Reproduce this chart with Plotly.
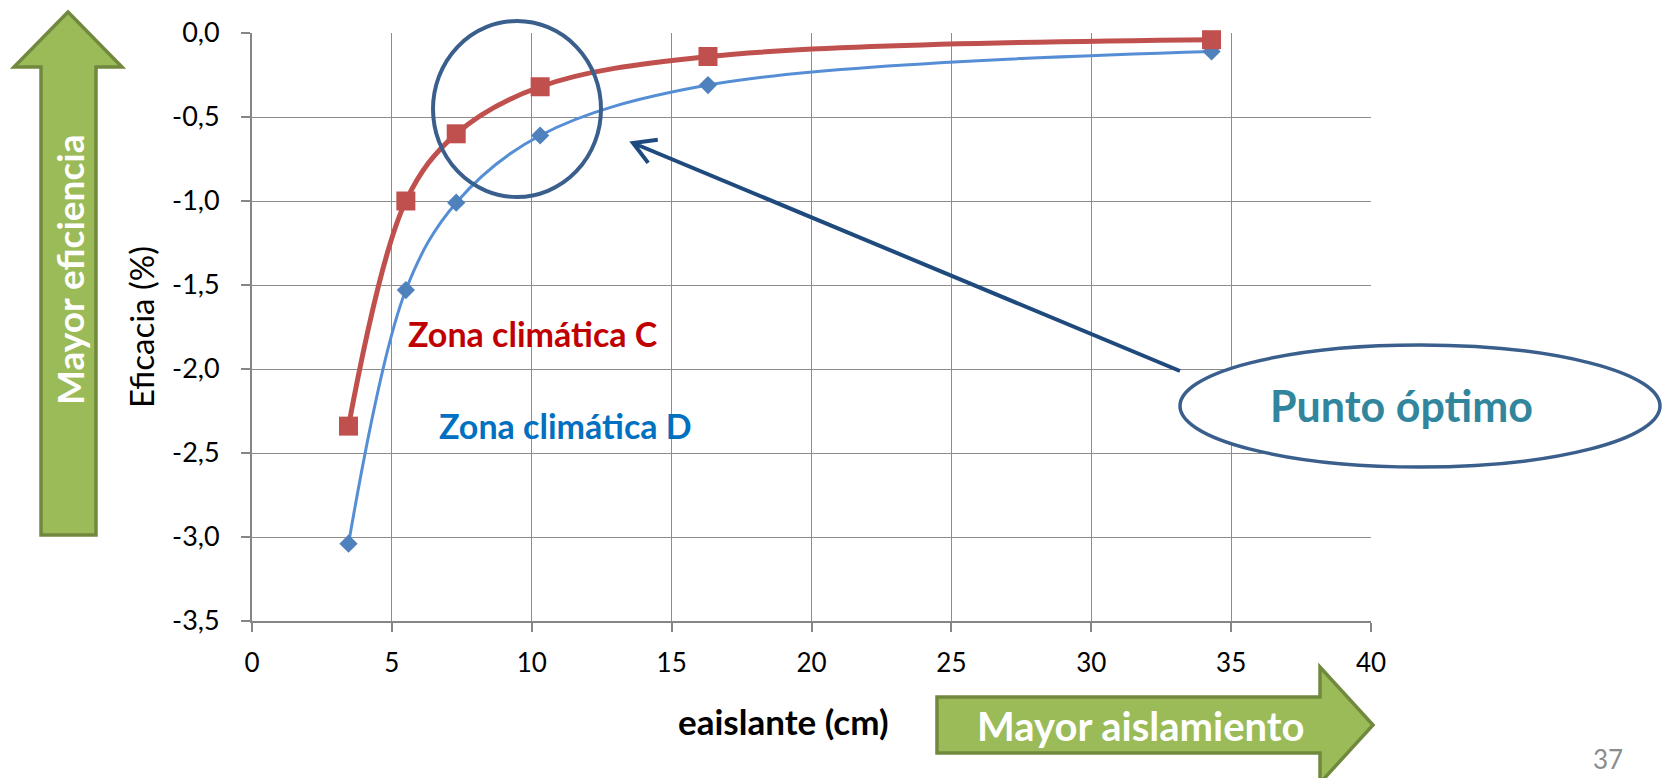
import math
import plotly.graph_objects as go

# Insulation thickness (cm) and efficiency (%) for each climate zone
espesor_cm = [3.45, 5.5, 7.3, 10.3, 16.3, 34.3]
eficacia_zona_c = [-2.34, -1.00, -0.60, -0.32, -0.14, -0.04]
eficacia_zona_d = [-3.04, -1.53, -1.01, -0.61, -0.31, -0.11]

x_ticks = [0, 5, 10, 15, 20, 25, 30, 35, 40]
y_ticks = [0.0, -0.5, -1.0, -1.5, -2.0, -2.5, -3.0, -3.5]
y_tick_text = ["0,0", "-0,5", "-1,0", "-1,5", "-2,0", "-2,5", "-3,0", "-3,5"]

FONT = "Lato"
FIG_W, FIG_H = 1662, 778
# plot area in pixels
L, T, W, H = 252, 33, 1119, 588


def px(x):
    return (x - L) / W


def py(y):
    return (T + H - y) / H


def path(points, close=True):
    s = "M " + " L ".join(f"{px(a):.5f},{py(b):.5f}" for a, b in points)
    return s + (" Z" if close else "")


def label(text, x, y, size, color, angle=0):
    return dict(text=text, x=px(x), y=py(y), xref="paper", yref="paper",
                xanchor="center", yanchor="middle", textangle=angle, showarrow=False,
                font=dict(family=FONT, size=size, color=color))


fig = go.Figure()

fig.add_trace(go.Scatter(
    x=espesor_cm, y=eficacia_zona_d, mode="lines+markers",
    line=dict(color="#558ED5", width=3, shape="spline", smoothing=1.0),
    marker=dict(symbol="diamond", size=14, color="#4F81BD"),
    name="Zona climática D", showlegend=False, cliponaxis=False,
))
fig.add_trace(go.Scatter(
    x=espesor_cm, y=eficacia_zona_c, mode="lines+markers",
    line=dict(color="#C0504D", width=5, shape="spline", smoothing=1.0),
    marker=dict(symbol="square", size=19, color="#C0504D"),
    name="Zona climática C", showlegend=False, cliponaxis=False,
))

shapes = []

# green "up" arrow on the left
up_arrow = [(68, 12), (122, 67), (96, 67), (96, 535), (41, 535), (41, 67), (14, 67)]
shapes.append(dict(type="path", xref="paper", yref="paper", path=path(up_arrow),
                   fillcolor="#9BBB59", line=dict(color="#71893F", width=3.5), layer="above"))

# green "right" arrow at the bottom
right_arrow = [(937, 697), (1320, 697), (1320, 667), (1373, 725), (1320, 783), (1320, 753), (937, 753)]
shapes.append(dict(type="path", xref="paper", yref="paper", path=path(right_arrow),
                   fillcolor="#9BBB59", line=dict(color="#71893F", width=3.5), layer="above"))

# circle around the optimum region
shapes.append(dict(type="circle", xref="paper", yref="paper",
                   x0=px(433), x1=px(601), y0=py(197), y1=py(21),
                   line=dict(color="#3A5F8D", width=4)))

# ellipse holding the "Punto óptimo" label
shapes.append(dict(type="circle", xref="paper", yref="paper",
                   x0=px(1180), x1=px(1660), y0=py(467), y1=py(345),
                   fillcolor="white", line=dict(color="#3A5F8D", width=3.5)))

# pointer arrow with an open head
tail = (1180, 371)
tip = (633, 143)
ang = math.atan2(tail[1] - tip[1], tail[0] - tip[0])
arm = 25
a1 = (tip[0] + arm * math.cos(ang - math.radians(30)), tip[1] + arm * math.sin(ang - math.radians(30)))
a2 = (tip[0] + arm * math.cos(ang + math.radians(30)), tip[1] + arm * math.sin(ang + math.radians(30)))
shapes.append(dict(type="path", xref="paper", yref="paper",
                   path=path([tail, tip], close=False) + " " + path([a1, tip, a2], close=False),
                   line=dict(color="#1F4A7E", width=4)))

annotations = [
    label("<b>Mayor eficiencia</b>", 69, 270, 37, "white", angle=-90),
    label("<b>Mayor aislamiento</b>", 1141, 726, 40, "white"),
    label("<b>Zona climática C</b>", 533, 333, 34, "#C00000"),
    label("<b>Zona climática D</b>", 565, 425, 34, "#0070C0"),
    label("<b>Punto óptimo</b>", 1401, 405, 43, "#31859C"),
    label("Eficacia (%)", 141, 327, 33, "black", angle=-90),
    label("<b>eaislante (cm)</b>", 783, 721, 35, "black"),
    label("37", 1608, 759, 26, "#8C8C8C"),
]

fig.update_layout(
    width=FIG_W, height=FIG_H,
    margin=dict(l=L, r=FIG_W - L - W, t=T, b=FIG_H - T - H, pad=0),
    paper_bgcolor="white", plot_bgcolor="white",
    separators=", ",
    font=dict(family=FONT, size=26, color="black"),
    shapes=shapes, annotations=annotations,
    xaxis=dict(range=[0, 40], tickvals=x_ticks, ticktext=[str(v) for v in x_ticks],
               showgrid=True, gridcolor="#8C8C8C", gridwidth=1.3,
               showline=True, linecolor="#868686", linewidth=2, zeroline=False,
               ticks="outside", ticklen=9, tickcolor="#868686", tickwidth=1.5,
               ticklabelstandoff=9, tickfont=dict(family=FONT, size=26, color="black")),
    yaxis=dict(range=[-3.5, 0], tickvals=y_ticks, ticktext=y_tick_text,
               showgrid=True, gridcolor="#8C8C8C", gridwidth=1.3,
               showline=True, linecolor="#868686", linewidth=2, zeroline=False,
               ticks="outside", ticklen=9, tickcolor="#868686", tickwidth=1.5,
               ticklabelstandoff=16, tickfont=dict(family=FONT, size=27, color="black")),
)

fig.write_html("out.html")
